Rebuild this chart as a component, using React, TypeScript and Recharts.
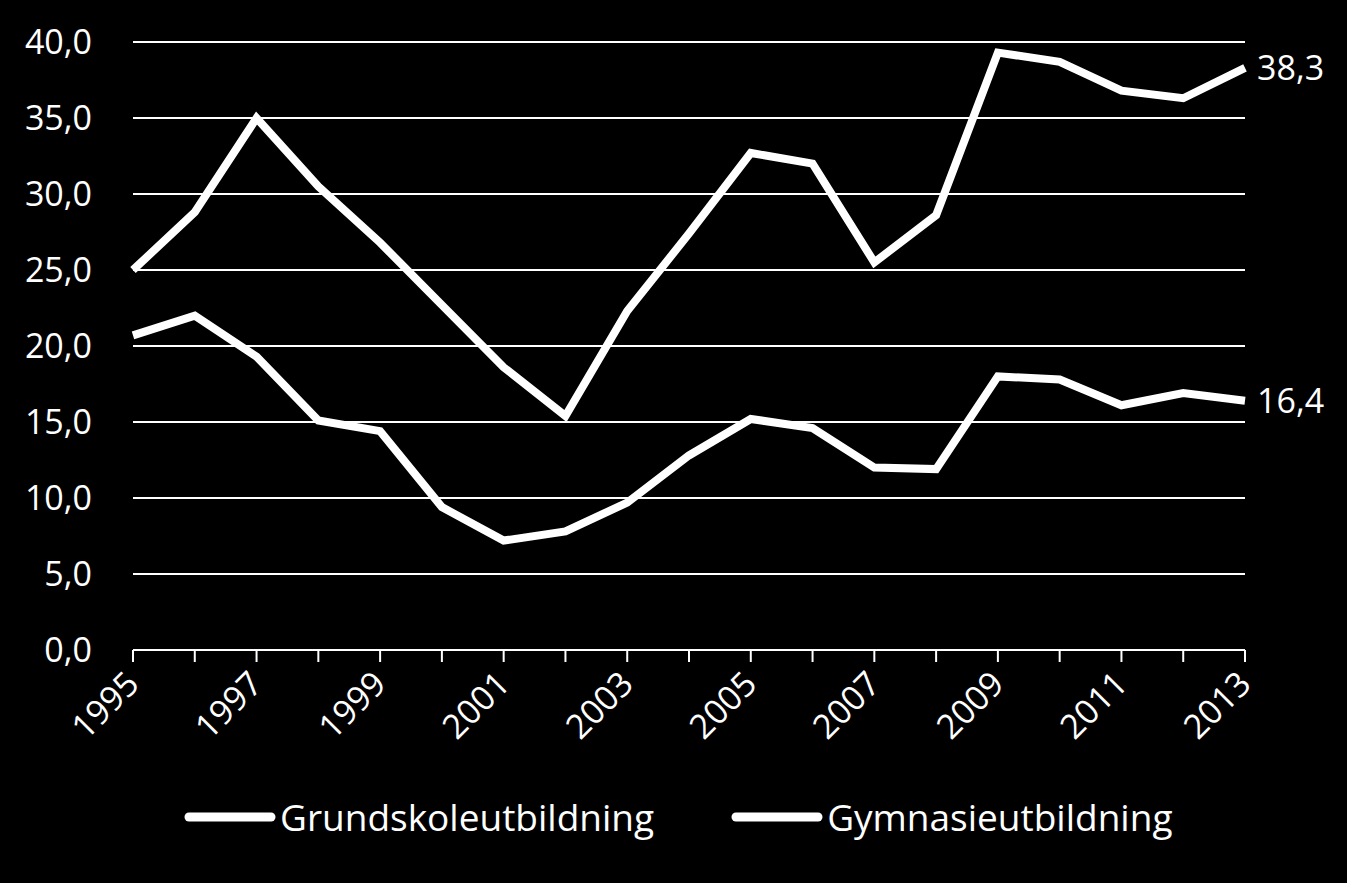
import React from 'react';
import { LineChart, Line, XAxis, YAxis, CartesianGrid, Legend, LabelList } from 'recharts';

const years = ['1995', '1996', '1997', '1998', '1999', '2000', '2001', '2002', '2003', '2004', '2005', '2006', '2007', '2008', '2009', '2010', '2011', '2012', '2013'];
const grundskole = [25.0, 28.8, 35.0, 30.5, 26.8, 22.7, 18.6, 15.4, 22.3, 27.4, 32.7, 32.0, 25.5, 28.6, 39.3, 38.7, 36.8, 36.3, 38.3];
const gymnasie = [20.7, 22.0, 19.3, 15.1, 14.4, 9.4, 7.2, 7.8, 9.7, 12.8, 15.2, 14.6, 12.0, 11.9, 18.0, 17.8, 16.1, 16.9, 16.4];
const yTicks = [0, 5, 10, 15, 20, 25, 30, 35, 40];
const seriesNames = ['Grundskoleutbildning', 'Gymnasieutbildning'];

const data = years.map((y, i) => ({ year: y, grund: grundskole[i], gymn: gymnasie[i] }));

const FONT = '"Open Sans", sans-serif';
const fmt = (v: number) => v.toFixed(1).replace('.', ',');

const XTick = (props: any) => {
  const { x, y, payload, index } = props;
  if (index % 2 !== 0) return <g />;
  const ax = x + 8;
  const ay = y + 22;
  return (
    <text x={ax} y={ay} textAnchor="end" transform={`rotate(-45, ${ax}, ${ay})`} fill="#ffffff" fontSize={34} fontFamily={FONT}>
      {payload.value}
    </text>
  );
};

const EndLabel = (props: any) => {
  const { x, y, value, index } = props;
  if (index !== years.length - 1) return null;
  return (
    <text x={x + 12} y={y} dy="0.35em" textAnchor="start" fill="#ffffff" fontSize={34} fontFamily={FONT}>
      {fmt(value)}
    </text>
  );
};

const LegendContent = () => (
  <div style={{ width: 1347, height: 93, display: 'flex', justifyContent: 'flex-start', alignItems: 'flex-start', paddingTop: 2, paddingLeft: 180, boxSizing: 'border-box', fontFamily: FONT, fontSize: 37, color: '#fff' }}>
    {seriesNames.map((n, i) => (
      <div key={n} style={{ display: 'flex', alignItems: 'center', marginLeft: i === 0 ? 0 : 73 }}>
        <svg width={96} height={12} style={{ marginRight: 4 }}>
          <line x1={9} y1={6} x2={91} y2={6} stroke="#fff" strokeWidth={9} strokeLinecap="round" />
        </svg>
        <span style={{ lineHeight: '50px', whiteSpace: 'nowrap' }}>{n}</span>
      </div>
    ))}
  </div>
);

export default function App() {
  return (
    <div style={{ width: 1347, height: 883, background: '#000' }}>
      <style>{`body{margin:0;background:#000;}`}</style>
      <LineChart width={1347} height={883} data={data} margin={{ top: 42, right: 102, left: 0, bottom: 0 }}>
        <CartesianGrid horizontal vertical={false} stroke="#ffffff" strokeWidth={2} />
        <XAxis
          dataKey="year"
          interval={0}
          height={140}
          tickSize={12}
          tickMargin={2}
          axisLine={{ stroke: '#ffffff', strokeWidth: 2 }}
          tickLine={{ stroke: '#ffffff', strokeWidth: 2 }}
          tick={<XTick />}
        />
        <YAxis
          domain={[0, 40]}
          ticks={yTicks}
          width={133}
          axisLine={false}
          tickLine={false}
          tickSize={0}
          tickMargin={41}
          tickFormatter={fmt}
          tick={{ fill: '#ffffff', fontSize: 34, fontFamily: FONT }}
        />
        <Legend verticalAlign="bottom" wrapperStyle={{ left: 0, width: 1347 }} content={<LegendContent />} />
        <Line dataKey="grund" name={seriesNames[0]} stroke="#ffffff" strokeWidth={8} dot={false} isAnimationActive={false} strokeLinejoin="miter">
          <LabelList dataKey="grund" content={<EndLabel />} />
        </Line>
        <Line dataKey="gymn" name={seriesNames[1]} stroke="#ffffff" strokeWidth={8} dot={false} isAnimationActive={false} strokeLinejoin="miter">
          <LabelList dataKey="gymn" content={<EndLabel />} />
        </Line>
      </LineChart>
    </div>
  );
}
